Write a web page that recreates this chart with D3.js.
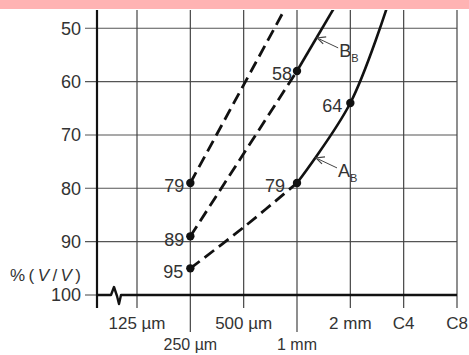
<!DOCTYPE html>
<html>
<head>
<meta charset="utf-8">
<script src="https://cdn.jsdelivr.net/npm/d3@7"></script>
<style>
  body { margin: 0; background: #fff; }
  svg { display: block; font-family: "Liberation Sans", Arial, sans-serif; }
</style>
</head>
<body>
<main></main>
<script>
// Data
const sizeTicks = [0.125, 0.25, 0.5, 1, 2, 4, 8];          // mm
const sizeLabels = ["125 µm", "250 µm", "500 µm", "1 mm", "2 mm", "C4", "C8"];
const lowRow = [false, true, false, true, false, false, false];
const pctTicks = [50, 60, 70, 80, 90, 100];

// each curve: dashed part and solid part, [size in mm, % (V/V)]
const curve1Dashed = [[0.25, 79], [0.9, 45]];
const curve2Dashed = [[0.25, 89], [1, 58]];
const curve2Solid = [[1, 58], [1.7, 45]];
const curve3Dashed = [[0.25, 95], [0.5, 87.3], [1, 79]];
const curve3Solid = [[1, 79], [2, 64], [3.3, 45]];

const markedPoints = [[0.25, 79], [0.25, 89], [0.25, 95], [1, 58], [1, 79], [2, 64]];
const markedLabels = ["79", "89", "95", "58", "79", "64"];
const labelShift = [-6, -6, -7, -5, -12, -8];

const curveNames = [{ main: "B", sub: "B", at: [1.3, 51.8] }, { main: "A", sub: "B", at: [1.28, 74.3] }];

function draw() {
	const width = 469, height = 355;
	const plotTop = 10, plotBottom = 308, lowTickEnd = 332;
	const left = 97, right = 457;

	const svg = d3.select("main").append("svg")
		.attr("width", width)
		.attr("height", height);

	// pink band across the top
	svg.append("rect")
		.attr("x", 0).attr("y", 0)
		.attr("width", width).attr("height", 9)
		.attr("fill", "#ffb3b3");

	const xScale = d3.scaleLog().base(2)
		.domain([0.125, 8])
		.range([137, right]);

	const yScale = d3.scaleLinear()
		.domain([50, 100])
		.range([28.3, 295]);

	svg.append("clipPath").attr("id", "plot-clip")
		.append("rect")
		.attr("x", left).attr("y", plotTop)
		.attr("width", right - left).attr("height", plotBottom - plotTop);

	// horizontal grid + left ticks
	svg.append("g").selectAll("line")
		.data(pctTicks.filter(d => d < 100))
		.join("line")
		.attr("x1", left - 12).attr("x2", right)
		.attr("y1", d => yScale(d)).attr("y2", d => yScale(d))
		.attr("stroke", "#555").attr("stroke-width", 1.1);

	svg.append("line")
		.attr("x1", left - 12).attr("x2", left)
		.attr("y1", yScale(100)).attr("y2", yScale(100))
		.attr("stroke", "#555").attr("stroke-width", 1.1);

	svg.append("g").selectAll("text")
		.data(pctTicks)
		.join("text")
		.attr("x", left - 16)
		.attr("y", d => yScale(d))
		.attr("dy", "0.36em")
		.attr("text-anchor", "end")
		.attr("font-size", 18)
		.attr("fill", "#333")
		.text(d => d);

	// vertical grid, ticks below the base line
	svg.append("g").selectAll("line")
		.data(sizeTicks)
		.join("line")
		.attr("x1", d => xScale(d)).attr("x2", d => xScale(d))
		.attr("y1", plotTop)
		.attr("y2", (d, i) => lowRow[i] ? lowTickEnd : plotBottom)
		.attr("stroke", "#444").attr("stroke-width", 1.2);

	svg.append("g").selectAll("text")
		.data(sizeTicks)
		.join("text")
		.attr("x", d => xScale(d))
		.attr("y", (d, i) => lowRow[i] ? 344 : 323)
		.attr("dy", "0.36em")
		.attr("text-anchor", "middle")
		.attr("font-size", (d, i) => lowRow[i] ? 16 : 17)
		.attr("fill", "#333")
		.text((d, i) => sizeLabels[i]);

	// y axis line
	svg.append("line")
		.attr("x1", left).attr("x2", left)
		.attr("y1", plotTop).attr("y2", plotBottom)
		.attr("stroke", "#111").attr("stroke-width", 2.2);

	// base line with break mark
	const y100 = yScale(100);
	const bx = left + 14;
	const baseLine = d3.line();
	svg.append("path")
		.attr("d", baseLine([
			[left, y100], [bx, y100], [bx + 3, y100 - 8], [bx + 6, y100 + 1],
			[bx + 8, y100 + 9], [bx + 10, y100], [right, y100]
		]))
		.attr("fill", "none")
		.attr("stroke", "#111").attr("stroke-width", 2.4)
		.attr("stroke-linejoin", "round");

	svg.append("text")
		.attr("x", 10)
		.attr("y", 275)
		.attr("dy", "0.36em")
		.attr("font-size", 17)
		.attr("fill", "#333")
		.attr("textLength", 71)
		.attr("lengthAdjust", "spacing")
		.html('%(<tspan font-style="italic">V</tspan>/<tspan font-style="italic">V</tspan>)');

	// curves
	const line = d3.line()
		.x(d => xScale(d[0]))
		.y(d => yScale(d[1]))
		.curve(d3.curveCatmullRom);

	const curves = svg.append("g").attr("clip-path", "url(#plot-clip)");
	[curve1Dashed, curve2Dashed, curve3Dashed].forEach(c => {
		curves.append("path")
			.attr("d", line(c))
			.attr("fill", "none")
			.attr("stroke", "#111").attr("stroke-width", 2.8)
			.attr("stroke-dasharray", "12,6");
	});
	[curve2Solid, curve3Solid].forEach(c => {
		curves.append("path")
			.attr("d", line(c))
			.attr("fill", "none")
			.attr("stroke", "#111").attr("stroke-width", 2.6);
	});

	svg.append("g").selectAll("circle")
		.data(markedPoints)
		.join("circle")
		.attr("cx", d => xScale(d[0]))
		.attr("cy", d => yScale(d[1]))
		.attr("r", 4.2)
		.attr("fill", "#111");

	svg.append("g").selectAll("text")
		.data(markedPoints)
		.join("text")
		.attr("x", (d, i) => xScale(d[0]) + labelShift[i])
		.attr("y", d => yScale(d[1]) + 3)
		.attr("dy", "0.36em")
		.attr("text-anchor", "end")
		.attr("font-size", 18)
		.attr("fill", "#333")
		.text((d, i) => markedLabels[i]);

	// curve names with arrows
	curveNames.forEach(n => {
		const tx = xScale(n.at[0]), ty = yScale(n.at[1]);
		const g = svg.append("g");
		g.append("line")
			.attr("x1", tx + 2).attr("y1", ty + 1)
			.attr("x2", tx + 21).attr("y2", ty + 10)
			.attr("stroke", "#444").attr("stroke-width", 1);
		g.append("path")
			.attr("d", d3.line()([[tx + 9, ty - 1], [tx, ty], [tx + 6, ty + 6]]))
			.attr("fill", "none")
			.attr("stroke", "#444").attr("stroke-width", 1.2);
		const t = g.append("text")
			.attr("x", tx + 22)
			.attr("y", ty + 19)
			.attr("font-size", 18)
			.attr("fill", "#333");
		t.append("tspan").text(n.main);
		t.append("tspan").attr("font-size", 11).attr("dy", 5).text(n.sub);
	});
}

draw();
</script>
</body>
</html>
